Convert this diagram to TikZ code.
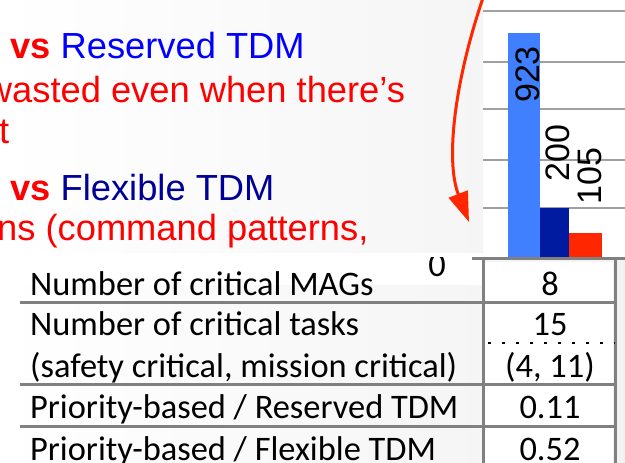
\documentclass[tikz,border=0pt]{standalone}
\usepackage{fontspec}
\setmainfont{Liberation Sans}
\newfontfamily\calfont{Carlito}
\usetikzlibrary{arrows.meta}
\definecolor{ared}{RGB}{255,0,0}
\definecolor{ablue}{RGB}{0,0,255}
\definecolor{adark}{RGB}{0,0,150}
\definecolor{barlight}{RGB}{64,128,255}
\definecolor{bardark}{RGB}{0,26,160}
\definecolor{barred}{RGB}{255,38,0}
\definecolor{gridgray}{RGB}{160,160,160}
\definecolor{tabgray}{RGB}{128,128,128}
\tikzset{
  slidetext/.style={anchor=base west, inner sep=0pt, font=\fontsize{36.3}{40}\selectfont},
  tabtext/.style={anchor=base west, inner sep=0pt, font=\calfont\fontsize{34.4}{38}\selectfont},
  tabval/.style={anchor=base, inner sep=0pt, font=\calfont\fontsize{34.4}{38}\selectfont},
  barlabel/.style={rotate=90, inner sep=0pt, font=\fontsize{34}{36}\selectfont},
  gridline/.style={draw=gridgray, line width=2.5pt},
  tabline/.style={draw=tabgray, line width=3pt},
  callout/.style={draw=barred, line width=3pt, -{Triangle[width=20pt,length=30pt]}}
}
\begin{document}
\begin{tikzpicture}[x=1pt,y=-1pt]
\useasboundingbox (0,0) rectangle (625,463);
\clip (0,0) rectangle (625,463);
% background
\shade[left color=white, right color=black!5] (0,0) rectangle (625,463);
\fill[white] (0,253) rectangle (483,285);
% chart plot area
\fill[white] (483,0) rectangle (625,257);
\foreach \gy in {11,62,109,160,208} \draw[gridline] (483,\gy) -- (625,\gy);
\fill[barlight] (508,33) rectangle (540,257);
\fill[bardark] (540,208) rectangle (569,257);
\fill[barred] (569,233) rectangle (602,257);
\node[barlabel] (l923) at (527.5,74.5) {923};
\node[barlabel] (l200) at (558,153) {200};
\node[barlabel] (l105) at (590,176) {105};
\begin{scope}
\clip (380,257) rectangle (480,300);
\node[tabval] (zero) at (437,276) {0};
\end{scope}
% slide text
\node[slidetext] (t1) at (10,59) {\textcolor{ared}{\bfseries vs} \textcolor{ablue}{Reserved TDM}};
\node[slidetext, text=ared] (t2) at (-14.2,102) {wasted even when there’s};
\node[slidetext, text=ared] (t3) at (-1,143) {t};
\node[slidetext] (t4) at (10,200) {\textcolor{ared}{\bfseries vs} \textcolor{adark}{Flexible TDM}};
\node[slidetext, text=ared] (t5) at (-3,240) {ns (command patterns,};
% arrow
\coordinate (arrS) at (483,-2);
\coordinate (arrE) at (469,222);
\draw[callout] (arrS) .. controls (455,80) and (445,160) .. (arrE);
% table
\fill[white] (485,262) rectangle (613,463);
\draw[tabline] (472,258) -- (625,258);
\draw[tabline] (483,258) -- (483,463);
\draw[tabline] (615,258) -- (615,463);
\foreach \ty in {302,384,426} \draw[tabline] (20,\ty) -- (615,\ty);
\draw[line width=2.5pt, dash pattern=on 2.5pt off 11.5pt] (488,343) -- (615,343);
\node[tabtext] (r1) at (30,295) {Number of critical MAGs};
\node[tabtext] (r2) at (30,335) {Number of critical tasks};
\node[tabtext] (r3) at (30,377) {(safety critical, mission critical)};
\node[tabtext] (r4) at (30,418) {Priority-based / Reserved TDM};
\node[tabtext] (r5) at (30,460) {Priority-based / Flexible TDM};
\node[tabval] (v1) at (550,295) {8};
\node[tabval] (v2) at (550,335) {15};
\node[tabval] (v3) at (550,377) {(4, 11)};
\node[tabval] (v4) at (550,418) {0.11};
\node[tabval] (v5) at (550,460) {0.52};
\end{tikzpicture}
\end{document}
